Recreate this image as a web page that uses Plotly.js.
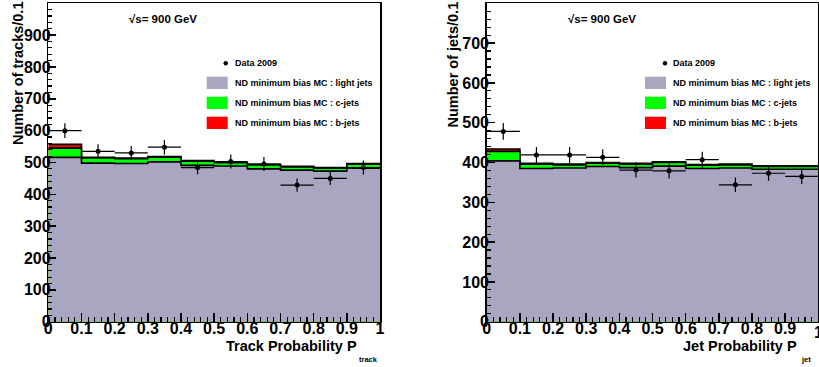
<!DOCTYPE html>
<html>
<head>
<meta charset="utf-8">
<script src="https://cdn.plot.ly/plotly-3.0.1.min.js"></script>
<style>html,body{margin:0;padding:0;background:#fff;}#chart{width:819px;height:367px;}</style>
</head>
<body>
<div id="chart"></div>
<script>
// ---- data ----
const binCenters = [0.05,0.15,0.25,0.35,0.45,0.55,0.65,0.75,0.85,0.95];
const binWidth = 0.1;

// Left panel: Track Probability
const trackData   = [600,535,530,548,484,503,495,429,450,484];
const trackErr    = [23,22,22,23,21,22,22,21,21,22];
const trackLight  = [516,498,497,502,491,489,480,476,473,482];
const trackC      = [29,16,15,15,13,10,12,10,9,13];
const trackB      = [12,2,2,2,2,2,2,2,2,2];

// Right panel: Jet Probability
const jetData     = [478,419,419,413,381,379,407,344,373,365];
const jetErr      = [21,20,20,20,19,19,20,18,19,19];
const jetLight    = [404,385,386,390,387,391,385,386,383,383];
const jetC        = [24,11,8,8,9,9,8,8,7,7];
const jetB        = [6,2,2,2,2,2,2,2,2,2];

const yTicksLeft  = [0,100,200,300,400,500,600,700,800,900];
const yTicksRight = [0,100,200,300,400,500,600,700,800];
const legendLabels = ["Data 2009","ND minimum bias MC : light jets","ND minimum bias MC : c-jets","ND minimum bias MC : b-jets"];
const energyLabel = "√s= 900 GeV";

// ---- styles ----
const FONT = "Liberation Sans, Arial, Helvetica, sans-serif";
const colLight = "#a9a6c1", colC = "#00ff00", colB = "#ff0000";
const W = 819, H = 367;
const px = v => v / W, py = v => 1 - v / H;

const edges = binCenters.map(c => +(c - binWidth/2).toFixed(3)).concat([+(binCenters[binCenters.length-1] + binWidth/2).toFixed(3)]);
function stepY(vals){ return vals.concat([vals[vals.length-1]]); }
function add(a,b){ return a.map((v,i)=>v+b[i]); }

function panelTraces(light, c, b, data, err, xa, ya){
  const cTop = add(light, c);
  const bTop = add(cTop, b);
  const mk = (vals, col) => ({
    type:'scatter', mode:'lines', x:edges, y:stepY(vals), xaxis:xa, yaxis:ya,
    line:{shape:'hv', color:'#000', width:1.6}, fill:'tozeroy', fillcolor:col,
    hoverinfo:'skip', showlegend:false
  });
  return [
    mk(bTop, colB), mk(cTop, colC), mk(light, colLight),
    {type:'scatter', mode:'markers', x:binCenters, y:data, xaxis:xa, yaxis:ya,
     marker:{color:'#000', size:5},
     error_y:{type:'data', array:err, visible:true, color:'#000', thickness:1.2, width:0},
     error_x:{type:'constant', value:binWidth/2, visible:true, color:'#000', thickness:1.2, width:0},
     showlegend:false}
  ];
}

const traces = [].concat(
  panelTraces(trackLight, trackC, trackB, trackData, trackErr, 'x', 'y'),
  panelTraces(jetLight, jetC, jetB, jetData, jetErr, 'x2', 'y2')
);

const tickFont = {family:FONT, size:16, color:'#000', weight:'bold'};
function xAxis(dom, anchor){
  return {domain:dom, anchor:anchor, range:[0,1], dtick:0.1, tick0:0,
    ticks:'inside', ticklen:9, tickwidth:1.5, tickcolor:'#000',
    minor:{dtick:0.02, tick0:0, ticks:'inside', ticklen:5, tickwidth:1.2, tickcolor:'#000'},
    showline:true, linecolor:'#000', linewidth:1.5, mirror:true,
    showgrid:false, zeroline:false, tickfont:tickFont, ticklabelstandoff:-8, fixedrange:true};
}
function yAxis(rng, tv, anchor){
  return {domain:[1-321.7/H, 1-3.3/H], anchor:anchor, range:rng,
    tickmode:'array', tickvals:tv, ticktext:tv.map(String),
    ticks:'inside', ticklen:8, tickwidth:1.5, tickcolor:'#000',
    minor:{tickmode:'linear', tick0:0, dtick:20, ticks:'inside', ticklen:4, tickwidth:1.2, tickcolor:'#000'},
    showline:true, linecolor:'#000', linewidth:1.5, mirror:true,
    showgrid:false, zeroline:false, tickfont:tickFont, ticklabelstandoff:-7, fixedrange:true};
}

const shapes = [], annotations = [];
function legend(boxX0, boxX1, markX, textX){
  const rows = [[76.7,89,colLight],[96.7,109,colC],[116.7,129,colB]];
  rows.forEach((r,i) => {
    shapes.push({type:'rect', xref:'paper', yref:'paper', x0:px(boxX0), x1:px(boxX1), y0:py(r[1]), y1:py(r[0]), fillcolor:r[2], line:{width:0}});
    annotations.push({xref:'paper', yref:'paper', x:px(textX), y:py((r[0]+r[1])/2), xanchor:'left', yanchor:'middle', showarrow:false,
      text:legendLabels[i+1], font:{family:FONT, size:9, color:'#000', weight:'bold'}});
  });
  shapes.push({type:'circle', xref:'paper', yref:'paper', x0:px(markX-2.2), x1:px(markX+2.2), y0:py(63.3+2.2), y1:py(63.3-2.2), fillcolor:'#000', line:{width:0}});
  annotations.push({xref:'paper', yref:'paper', x:px(textX), y:py(63.3), xanchor:'left', yanchor:'middle', showarrow:false,
    text:legendLabels[0], font:{family:FONT, size:9, color:'#000', weight:'bold'}});
}
legend(206.7, 227.7, 225.7, 233);
legend(645, 666, 665, 671);

function txt(x, y, t, size, xa, ya, angle){
  annotations.push({xref:'paper', yref:'paper', x:px(x), y:py(y), xanchor:xa, yanchor:ya, showarrow:false, text:t,
    textangle:angle||0, font:{family:FONT, size:size, color:'#000', weight:'bold'}});
}
txt(127, 19, energyLabel, 11.5, 'left', 'middle');
txt(566, 19, energyLabel, 11.5, 'left', 'middle');
txt(17.5, 0, "Number of tracks/0.1", 14.5, 'center', 'top', -90);
txt(452.5, 0, "Number of jets/0.1", 14.5, 'center', 'top', -90);
txt(359, 346, "Track Probability P", 14.5, 'right', 'middle');
txt(380, 359.5, "track", 7.5, 'right', 'middle');
txt(799, 346, "Jet Probability P", 14.5, 'right', 'middle');
txt(813, 359.5, "jet", 7.5, 'right', 'middle');
// last x tick label of the right panel, which sits at the page edge and is cut off
annotations.push({xref:'x2', yref:'paper', x:1, y:py(322), xanchor:'center', yanchor:'top', showarrow:false,
  text:"1", font:tickFont});

const layout = {
  width:W, height:H, margin:{l:0,r:0,t:0,b:0},
  paper_bgcolor:'#fff', plot_bgcolor:'#fff', showlegend:false,
  xaxis: xAxis([48.3/W, 380/W], 'y'),
  yaxis: yAxis([0,1000], yTicksLeft, 'x'),
  xaxis2: xAxis([486.7/W, 818.3/W], 'y2'),
  yaxis2: yAxis([0,800], yTicksRight, 'x2'),
  shapes:shapes, annotations:annotations
};
Plotly.newPlot('chart', traces, layout, {staticPlot:true, displayModeBar:false});
</script>
</body>
</html>
